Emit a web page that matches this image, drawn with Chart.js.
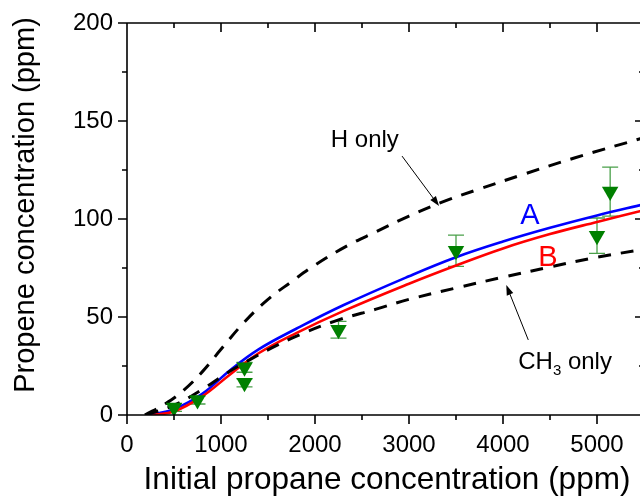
<!DOCTYPE html>
<html>
<head>
<meta charset="UTF-8">
<title>Propene vs initial propane</title>
<script src="https://cdn.jsdelivr.net/npm/chart.js"></script>
<style>
  html,body{margin:0;padding:0;background:#fff;overflow:hidden;}
  #wrap{width:660px;height:500px;}
</style>
</head>
<body>
<div id="wrap"><canvas id="c" width="660" height="500"></canvas></div>
<script>
// ---- data ----
const xTicks = [0, 1000, 2000, 3000, 4000, 5000];
const yTicks = [0, 50, 100, 150, 200];

// experiment (down triangles) with error bars
const expX   = [500, 750, 1250, 1250, 2250, 3500, 5000, 5140];
const expY   = [3.8, 7.6, 24.3, 16.4, 43.5, 83.8, 91.5, 114];
const expErr = [2, 2, 2.5, 2, 4.3, 8, 9, 12.5];

// model A (blue)
const aX = [250, 500, 800, 1100, 1400, 1800, 2300, 3000, 3500, 4000, 4500, 5000, 5500];
const aY = [0, 3, 10.8, 23, 33.5, 44, 56, 70.8, 80.5, 88.5, 95.5, 101.8, 107.5];
// model B (red)
const bX = [270, 500, 800, 1100, 1400, 1800, 2300, 3000, 3500, 4000, 4500, 5000, 5500];
const bY = [0, 1.8, 9.5, 20.8, 31.5, 41.8, 53, 67, 76.3, 85, 92.3, 98.5, 104.5];
// H only (dashed)
const hX = [190, 400, 600, 800, 1000, 1250, 1500, 1750, 2000, 2350, 2650, 3000, 3400, 3700, 4200, 4750, 5500];
const hY = [0, 5.5, 12.5, 22, 33.5, 47.5, 59, 68, 76.5, 86.5, 93.5, 101.5, 109.5, 114.5, 122.5, 131, 141.5];
// CH3 only (dashed)
const cX = [200, 500, 800, 1050, 1280, 1550, 1840, 2250, 2650, 3000, 3500, 4000, 4500, 5000, 5500];
const cY = [0, 5, 13, 21, 27.5, 34.5, 41, 48.5, 54, 59, 64.8, 70.3, 75.5, 80.5, 84.5];

const pts = (xs, ys) => xs.map((v, i) => ({x: v, y: ys[i]}));
const FONT = "'Liberation Sans', Arial, sans-serif";

/* ---------- frame, ticks, error bars, labels ---------- */
const frame = {
  id: 'frame',
  afterDraw(chart){
    const {ctx, chartArea: a, scales: {x, y}} = chart;
    ctx.save();
    ctx.strokeStyle = '#000';
    ctx.lineWidth = 1.6;
    ctx.beginPath();
    ctx.rect(a.left, a.top, a.right - a.left, a.bottom - a.top);
    // x ticks: major at labels, minor halfway
    const xs = [];
    xTicks.forEach(v => { xs.push([v, 9]); xs.push([v + (xTicks[1] - xTicks[0]) / 2, 5]); });
    xs.forEach(([v, len]) => {
      const px = x.getPixelForValue(v);
      ctx.moveTo(px, a.bottom); ctx.lineTo(px, a.bottom + len);
      ctx.moveTo(px, a.top); ctx.lineTo(px, a.top + len);
    });
    const ys = [];
    yTicks.forEach((v, i) => { ys.push([v, 9]); if (i < yTicks.length - 1) ys.push([v + (yTicks[1] - yTicks[0]) / 2, 5]); });
    ys.forEach(([v, len]) => {
      const py = y.getPixelForValue(v);
      ctx.moveTo(a.left - len, py); ctx.lineTo(a.left, py);
      ctx.moveTo(a.right - len, py); ctx.lineTo(a.right, py);
    });
    ctx.stroke();

    // axis titles
    ctx.fillStyle = '#000';
    ctx.textAlign = 'center';
    ctx.textBaseline = 'alphabetic';
    ctx.font = '31.5px ' + FONT;
    ctx.fillText('Initial propane concentration (ppm)', 387, 489);
    ctx.save();
    ctx.translate(34, 205);
    ctx.rotate(-Math.PI / 2);
    ctx.font = '29px ' + FONT;
    ctx.fillText('Propene concentration (ppm)', 0, 0);
    ctx.restore();
    ctx.restore();
  },
  beforeDatasetsDraw(chart){
    const {ctx, chartArea: a, scales: {x, y}} = chart;
    ctx.save();
    ctx.beginPath(); ctx.rect(a.left, a.top, a.right - a.left, a.bottom - a.top); ctx.clip();
    ctx.strokeStyle = '#4aa04a';
    ctx.lineWidth = 1.3;
    ctx.beginPath();
    expX.forEach((v, i) => {
      const px = x.getPixelForValue(v);
      const top = y.getPixelForValue(expY[i] + expErr[i]);
      const bot = y.getPixelForValue(expY[i] - expErr[i]);
      ctx.moveTo(px, top); ctx.lineTo(px, bot);
      ctx.moveTo(px - 8, top); ctx.lineTo(px + 8, top);
      ctx.moveTo(px - 8, bot); ctx.lineTo(px + 8, bot);
    });
    ctx.stroke();
    ctx.restore();
  },
  afterDatasetsDraw(chart){
    const {ctx, scales: {x, y}} = chart;
    const P = (vx, vy) => [x.getPixelForValue(vx), y.getPixelForValue(vy)];
    ctx.save();
    ctx.textAlign = 'left';
    ctx.textBaseline = 'alphabetic';
    ctx.font = '29px ' + FONT;
    ctx.fillStyle = '#0000ff';
    ctx.fillText('A', ...P(4183, 97.4));
    ctx.fillStyle = '#ff0000';
    ctx.fillText('B', ...P(4375, 76));

    ctx.fillStyle = '#000';
    ctx.font = '24px ' + FONT;
    ctx.fillText('H only', ...P(2168, 136.7));
    let [cx, cy] = P(4162, 23.5);
    ctx.fillText('CH', cx, cy);
    cx += ctx.measureText('CH').width;
    ctx.font = '15px ' + FONT;
    ctx.fillText('3', cx, cy + 6);
    cx += ctx.measureText('3').width;
    ctx.font = '24px ' + FONT;
    ctx.fillText(' only', cx, cy);

    const arrow = (from, to) => {
      const [x1, y1] = P(...from), [x2, y2] = P(...to);
      const ang = Math.atan2(y2 - y1, x2 - x1);
      ctx.strokeStyle = '#000'; ctx.lineWidth = 1;
      ctx.beginPath(); ctx.moveTo(x1, y1);
      ctx.lineTo(x2 - 8 * Math.cos(ang), y2 - 8 * Math.sin(ang)); ctx.stroke();
      ctx.beginPath();
      ctx.moveTo(x2, y2);
      ctx.lineTo(x2 - 10 * Math.cos(ang) + 3.5 * Math.sin(ang), y2 - 10 * Math.sin(ang) - 3.5 * Math.cos(ang));
      ctx.lineTo(x2 - 10 * Math.cos(ang) - 3.5 * Math.sin(ang), y2 - 10 * Math.sin(ang) + 3.5 * Math.cos(ang));
      ctx.closePath(); ctx.fill();
    };
    arrow([2926, 132.1], [3320, 106.6]);
    arrow([4269, 38.3], [4035, 66.3]);
    ctx.restore();
  }
};

const line = (data, color, dash, width) => ({
  type: 'line', data, borderColor: color, borderWidth: width, borderDash: dash,
  pointRadius: 0, fill: false, tension: 0.4, borderCapStyle: 'butt'
});

new Chart(document.getElementById('c'), {
  type: 'scatter',
  data: {
    datasets: [
      { type: 'scatter', data: pts(expX, expY), pointStyle: 'triangle', rotation: 180,
        pointRadius: 9.5, backgroundColor: '#008000', borderColor: '#008000', borderWidth: 0 },
      line(pts(hX, hY), '#000', [13, 10], 3),
      line(pts(cX, cY), '#000', [13, 10], 3),
      line(pts(bX, bY), '#ff0000', [], 2.6),
      line(pts(aX, aY), '#0000ff', [], 2.6)
    ]
  },
  plugins: [frame],
  options: {
    responsive: false,
    animation: false,
    events: [],
    layout: { padding: { left: 0, right: 16, top: 23, bottom: 0 } },
    plugins: { legend: { display: false }, tooltip: { enabled: false } },
    scales: {
      x: {
        type: 'linear', min: 0, max: 5500,
        afterFit: s => { s.height = 85; s.paddingLeft = 0; s.paddingRight = 0; },
        afterBuildTicks: s => { s.ticks = xTicks.map(v => ({value: v})); },
        grid: { display: false, drawTicks: false },
        border: { display: false },
        ticks: { color: '#000', font: { family: FONT, size: 24 }, padding: 16, maxRotation: 0,
                 callback: v => String(v) }
      },
      y: {
        type: 'linear', min: 0, max: 200,
        afterFit: s => { s.width = 127; s.paddingTop = 0; s.paddingBottom = 0; },
        afterBuildTicks: s => { s.ticks = yTicks.map(v => ({value: v})); },
        grid: { display: false, drawTicks: false },
        border: { display: false },
        ticks: { color: '#000', font: { family: FONT, size: 24 }, padding: 14,
                 callback: v => String(v) }
      }
    }
  }
});
</script>
</body>
</html>
